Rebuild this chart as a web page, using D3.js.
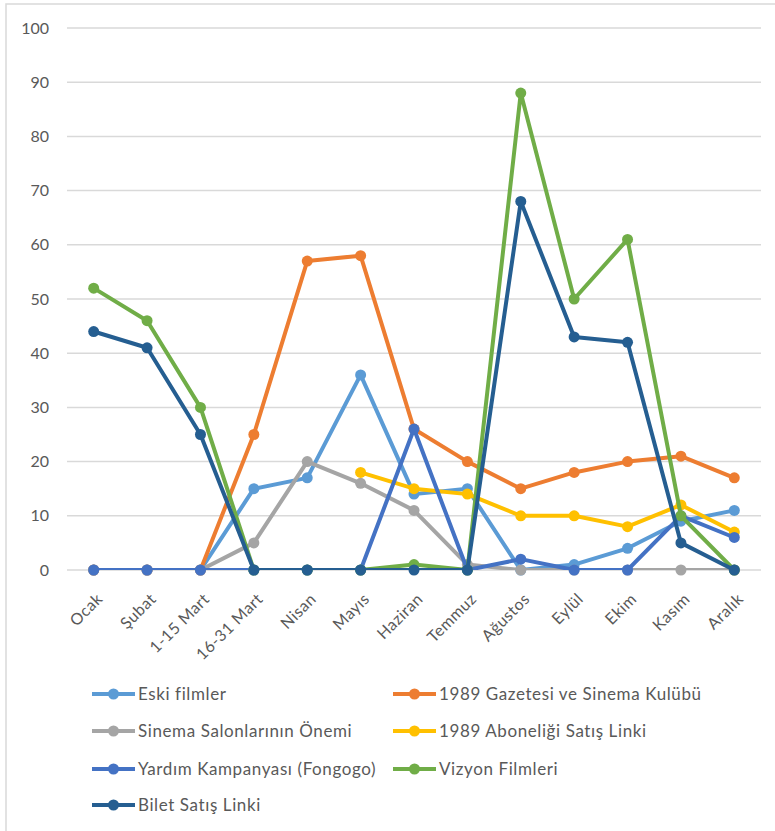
<!DOCTYPE html>
<html>
<head>
<meta charset="utf-8">
<script src="https://cdn.jsdelivr.net/npm/d3@7"></script>
<style>
  body { margin: 0; background: #fff; }
  text { font-family: Lato, "Open Sans", sans-serif; fill: #595959; }
</style>
</head>
<body>
<div id="chart"></div>
<script>
// categories and series
const months = ["Ocak", "Şubat", "1-15 Mart", "16-31 Mart", "Nisan", "Mayıs", "Haziran",
                "Temmuz", "Ağustos", "Eylül", "Ekim", "Kasım", "Aralık"];
const eskiFilmler = [0, 0, 0, 15, 17, 36, 14, 15, 0, 1, 4, 9, 11];
const gazeteKulup = [0, 0, 0, 25, 57, 58, 26, 20, 15, 18, 20, 21, 17];
const sinemaSalon = [0, 0, 0, 5, 20, 16, 11, 1, 0, 0, 0, 0, 0];
const abonelik    = [null, null, null, null, null, 18, 15, 14, 10, 10, 8, 12, 7];
const yardim      = [0, 0, 0, 0, 0, 0, 26, 0, 2, 0, 0, 10, 6];
const vizyon      = [52, 46, 30, 0, 0, 0, 1, 0, 88, 50, 61, 10, 0];
const bilet       = [44, 41, 25, 0, 0, 0, 0, 0, 68, 43, 42, 5, 0];
const yTicks = [0, 10, 20, 30, 40, 50, 60, 70, 80, 90, 100];

const seriesNames = ["Eski filmler", "1989 Gazetesi ve Sinema Kulübü", "Sinema Salonlarının Önemi",
                     "1989 Aboneliği Satış Linki", "Yardım Kampanyası (Fongogo)", "Vizyon Filmleri",
                     "Bilet Satış Linki"];
const seriesValues = [eskiFilmler, gazeteKulup, sinemaSalon, abonelik, yardim, vizyon, bilet];
const colours = ["#5B9BD5", "#ED7D31", "#A5A5A5", "#FFC000", "#4472C4", "#70AD47", "#255E91"];

const width = 775;
const height = 831;
const plot = { left: 67, right: 761, top: 28, bottom: 570 };

const svg = d3.select("#chart")
    .append("svg")
    .attr("width", width)
    .attr("height", height);

// outer chart border (only top and left are visible in the picture)
svg.append("path")
    .attr("d", `M6,${height} L6,4 L${width},4`)
    .attr("fill", "none")
    .attr("stroke", "#d9d9d9")
    .attr("stroke-width", 1.5);

const x = d3.scalePoint()
    .domain(months)
    .range([plot.left, plot.right])
    .padding(0.5);

const y = d3.scaleLinear()
    .domain([0, 100])
    .range([plot.bottom, plot.top]);

// gridlines
svg.append("g")
    .selectAll("line")
    .data(yTicks)
    .enter()
    .append("line")
    .attr("x1", plot.left)
    .attr("x2", plot.right)
    .attr("y1", d => y(d))
    .attr("y2", d => y(d))
    .attr("stroke", "#d9d9d9")
    .attr("stroke-width", 1.5);

// y axis labels
const yAxis = svg.append("g")
    .attr("transform", `translate(${plot.left - 18},0)`)
    .call(d3.axisLeft(y).tickValues(yTicks).tickSize(0).tickPadding(0));
yAxis.select(".domain").remove();
yAxis.selectAll("text")
    .style("font-size", "16px")
    .attr("fill", "#595959");

// x axis labels, rotated
svg.append("g")
    .selectAll("text")
    .data(months)
    .enter()
    .append("text")
    .attr("transform", d => `translate(${x(d) + 10},600) rotate(-45)`)
    .attr("text-anchor", "end")
    .style("font-size", "16px")
    .style("letter-spacing", "0.5px")
    .text(d => d);

// lines are clipped to the plot area like in the spreadsheet chart
svg.append("clipPath")
    .attr("id", "plotClip")
    .append("rect")
    .attr("x", 0)
    .attr("y", plot.top - 10)
    .attr("width", width)
    .attr("height", plot.bottom - plot.top + 10);

const line = d3.line()
    .defined(d => d.v !== null)
    .x(d => x(d.m))
    .y(d => y(d.v));

const series = seriesNames.map((name, i) => ({
    name: name,
    colour: colours[i],
    points: months.map((m, j) => ({ m: m, v: seriesValues[i][j] }))
}));

// draw each series line then its markers, in series order
series.forEach(s => {
    const g = svg.append("g");
    g.append("path")
        .datum(s.points)
        .attr("clip-path", "url(#plotClip)")
        .attr("d", line)
        .attr("fill", "none")
        .attr("stroke", s.colour)
        .attr("stroke-width", 4)
        .attr("stroke-linejoin", "round");
    g.selectAll("circle")
        .data(s.points.filter(p => p.v !== null))
        .enter()
        .append("circle")
        .attr("cx", p => x(p.m))
        .attr("cy", p => y(p.v))
        .attr("r", 5.5)
        .attr("fill", s.colour);
});

// legend, two columns, filled row by row
const legendCols = [92, 393];
const legendRows = [694, 731, 769, 805];
const legend = svg.append("g")
    .selectAll("g")
    .data(series)
    .enter()
    .append("g")
    .attr("transform", (d, i) => `translate(${legendCols[i % 2]},${legendRows[Math.floor(i / 2)]})`);

legend.append("line")
    .attr("x1", 0)
    .attr("x2", 43)
    .attr("stroke", d => d.colour)
    .attr("stroke-width", 4);

legend.append("circle")
    .attr("cx", 21.5)
    .attr("r", 5.5)
    .attr("fill", d => d.colour);

legend.append("text")
    .attr("x", 46)
    .attr("dy", "0.35em")
    .style("font-size", "17px")
    .style("letter-spacing", "0.6px")
    .text(d => d.name);
</script>
</body>
</html>
